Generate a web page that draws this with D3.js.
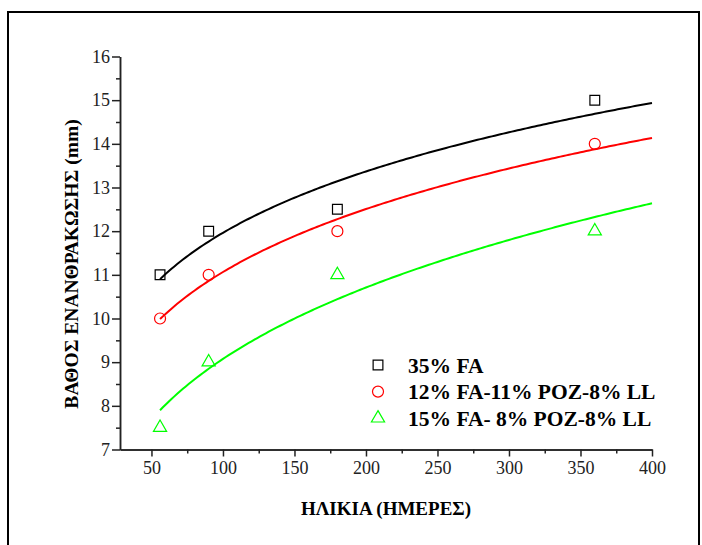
<!DOCTYPE html>
<html>
<head>
<meta charset="utf-8">
<script src="https://d3js.org/d3.v7.min.js"></script>
<style>
  body { margin: 0; background: #fff; }
  text { font-family: "Liberation Serif", "Times New Roman", serif; }
</style>
</head>
<body>
<script>
// data
var days = [56, 90, 180, 360];
var fa35 = [11, 12, 12.5, 15];
var fa12poz11 = [10, 11, 12, 14];
var fa15poz8 = [7.5, 9, 11, 12];
var seriesNames = ["35% FA", "12% FA-11% POZ-8% LL", "15% FA- 8% POZ-8% LL"];
var xTicks = [50, 100, 150, 200, 250, 300, 350, 400];
var yTicks = [7, 8, 9, 10, 11, 12, 13, 14, 15, 16];

var W = 702, H = 545;
var svg = d3.select("body").append("svg").attr("width", W).attr("height", H);

// outer frame
svg.append("rect")
  .attr("x", 8).attr("y", 12).attr("width", 691).attr("height", 560)
  .attr("fill", "none").attr("stroke", "#000").attr("stroke-width", 2);

var x = d3.scaleLinear().domain([28, 400]).range([120, 652]);
var y = d3.scaleLinear().domain([7, 16]).range([449.5, 56.5]);

// allometric fit y = a*x^b, least squares (Gauss-Newton from log-log start)
function powerFit(xs, ys) {
  var lx = xs.map(Math.log), ly = ys.map(Math.log);
  var mx = d3.mean(lx), my = d3.mean(ly);
  var b = d3.sum(lx, function(v, i) { return (v - mx) * (ly[i] - my); }) /
          d3.sum(lx, function(v) { return (v - mx) * (v - mx); });
  var a = Math.exp(my - b * mx);
  for (var it = 0; it < 50; it++) {
    var jaa = 0, jab = 0, jbb = 0, ra = 0, rb = 0;
    xs.forEach(function(xv, i) {
      var f = a * Math.pow(xv, b);
      var da = Math.pow(xv, b), db = f * Math.log(xv), r = ys[i] - f;
      jaa += da * da; jab += da * db; jbb += db * db; ra += da * r; rb += db * r;
    });
    var det = jaa * jbb - jab * jab;
    a += (jbb * ra - jab * rb) / det;
    b += (jaa * rb - jab * ra) / det;
  }
  return function(xv) { return a * Math.pow(xv, b); };
}

var series = [
  { name: seriesNames[0], values: fa35, color: "#000000", symbol: d3.symbolSquare, size: 95 },
  { name: seriesNames[1], values: fa12poz11, color: "#ff0000", symbol: d3.symbolCircle, size: 95 },
  { name: seriesNames[2], values: fa15poz8, color: "#00ff00", symbol: d3.symbolTriangle, size: 75 }
];

var line = d3.line().x(function(d) { return x(d[0]); }).y(function(d) { return y(d[1]); });
var curveX = d3.range(56, 400.5, 2);

series.forEach(function(s) {
  var f = powerFit(days, s.values);
  svg.append("path")
    .datum(curveX.map(function(v) { return [v, f(v)]; }))
    .attr("d", line)
    .attr("fill", "none").attr("stroke", s.color).attr("stroke-width", 2);

  svg.selectAll(null).data(days).enter().append("path")
    .attr("transform", function(d, i) { return "translate(" + x(d) + "," + y(s.values[i]) + ")"; })
    .attr("d", d3.symbol().type(s.symbol).size(s.size))
    .attr("fill", "none").attr("stroke", s.color).attr("stroke-width", 1.2);
});

// axes
svg.append("g").attr("transform", "translate(0,449.5)")
  .call(d3.axisBottom(x).tickValues(xTicks).tickSize(7).tickSizeOuter(0).tickPadding(5));
svg.append("g").attr("transform", "translate(0,449.5)")
  .call(d3.axisBottom(x).tickValues(d3.range(75, 400, 50)).tickSize(4).tickSizeOuter(0).tickFormat(""));
svg.append("g").attr("transform", "translate(120,0)")
  .call(d3.axisLeft(y).tickValues(yTicks).tickSize(8).tickSizeOuter(0).tickPadding(2));
svg.append("g").attr("transform", "translate(120,0)")
  .call(d3.axisLeft(y).tickValues(d3.range(7.5, 16, 1)).tickSize(4).tickSizeOuter(0).tickFormat(""));

svg.selectAll(".domain, .tick line").attr("stroke", "#222").attr("stroke-width", 1.5);
svg.selectAll(".tick text").attr("font-size", 18).attr("fill", "#222")
  .style("font-family", "'Liberation Serif', serif");

// axis titles
svg.append("text")
  .attr("x", 386).attr("y", 515).attr("text-anchor", "middle")
  .attr("font-size", 19).attr("font-weight", "bold")
  .text("ΗΛΙΚΙΑ (ΗΜΕΡΕΣ)");
svg.append("text")
  .attr("transform", "translate(78,264) rotate(-90)").attr("text-anchor", "middle")
  .attr("font-size", 19.5).attr("font-weight", "bold")
  .text("ΒΑΘΟΣ ΕΝΑΝΘΡΑΚΩΣΗΣ (mm)");

// legend
var leg = svg.append("g").attr("transform", "translate(378,365)");
series.forEach(function(s, i) {
  leg.append("path")
    .attr("transform", "translate(0," + (i * 26.6) + ")")
    .attr("d", d3.symbol().type(s.symbol).size(s.size))
    .attr("fill", "none").attr("stroke", s.color).attr("stroke-width", 1.2);
  leg.append("text")
    .attr("x", 30).attr("y", i * 26.6).attr("dy", "0.35em")
    .attr("font-size", 21.5).attr("font-weight", "bold")
    .text(s.name);
});
</script>
</body>
</html>
